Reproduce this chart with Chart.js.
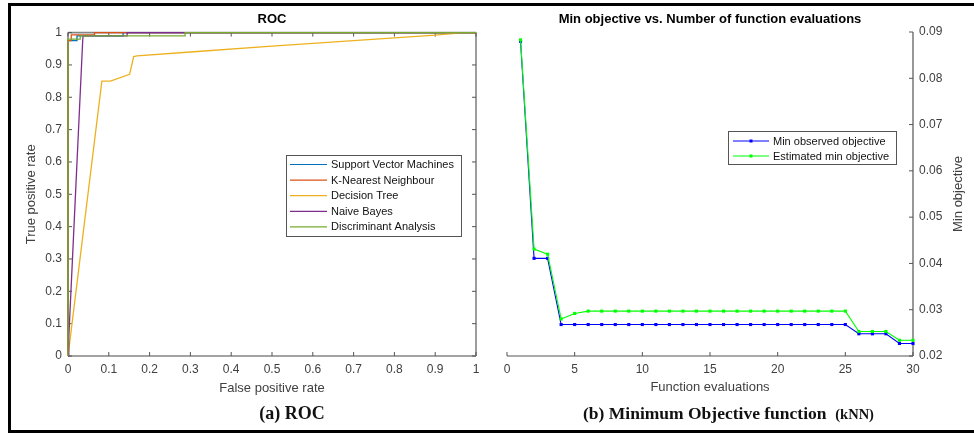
<!DOCTYPE html>
<html>
<head>
<meta charset="utf-8">
<script src="https://cdn.jsdelivr.net/npm/chart.js@4.4.0/dist/chart.umd.min.js"></script>
<style>
  html, body { margin: 0; padding: 0; background: #fff; }
  body { width: 974px; height: 433px; position: relative; overflow: hidden; }
  canvas { position: absolute; top: 0; }
  #rocCanvas { left: 0; }
  #objCanvas { left: 490px; }
  .frame { position: absolute; left: 8px; top: 3px; width: 990px; height: 430px; box-sizing: border-box;
           border: 3px solid #000; border-right: none; pointer-events: none; }
  .caption { position: absolute; font-family: 'Liberation Serif', 'Times New Roman', serif; font-weight: bold;
             color: #111; white-space: pre; line-height: 20px; }
</style>
</head>
<body>
<canvas id="rocCanvas" width="490" height="433"></canvas>
<canvas id="objCanvas" width="484" height="433"></canvas>
<div class="frame"></div>
<div class="caption" style="left:0; width:584px; text-align:center; top:403px; font-size:18px;">(a) ROC</div>
<div class="caption" style="left:583px; top:403px; font-size:17.5px;">(b) Minimum Objective function  <span style="font-size:14.5px">(kNN)</span></div>
<script>
// ROC curves (false positive rate / true positive rate)
const svmFpr = [0, 0, 0.022, 0.022, 0.135, 0.135, 1];
const svmTpr = [0, 0.975, 0.975, 0.99, 0.99, 1, 1];
const knnFpr = [0, 0, 0.008, 0.008, 0.065, 0.065, 1];
const knnTpr = [0, 0.975, 0.975, 0.993, 0.993, 1, 1];
const dtFpr = [0, 0.003, 0.083, 0.104, 0.151, 0.161, 0.169, 0.3, 0.5, 0.7, 0.9, 0.97, 1];
const dtTpr = [0, 0.03, 0.85, 0.85, 0.871, 0.926, 0.928, 0.94, 0.958, 0.975, 0.992, 1, 1];
const nbFpr = [0, 0.002, 0.036, 0.037, 0.145, 0.145, 1];
const nbTpr = [0, 0.06, 0.975, 0.99, 0.99, 1, 1];
const daFpr = [0, 0, 0.03, 0.03, 0.287, 0.287, 1];
const daTpr = [0, 0.98, 0.98, 0.99, 0.99, 1, 1];
const rocTicks = [0, 0.1, 0.2, 0.3, 0.4, 0.5, 0.6, 0.7, 0.8, 0.9, 1];

// Bayesian optimisation trace (kNN)
const evals = [1, 2, 3, 4, 5, 6, 7, 8, 9, 10, 11, 12, 13, 14, 15, 16, 17, 18, 19, 20, 21, 22, 23, 24, 25, 26, 27, 28, 29, 30];
const minObserved = [0.088, 0.0411, 0.0411, 0.0268, 0.0268, 0.0268, 0.0268, 0.0268, 0.0268, 0.0268,
  0.0268, 0.0268, 0.0268, 0.0268, 0.0268, 0.0268, 0.0268, 0.0268, 0.0268, 0.0268,
  0.0268, 0.0268, 0.0268, 0.0268, 0.0268, 0.0248, 0.0248, 0.0248, 0.0227, 0.0227];
const estimatedMin = [0.0883, 0.0431, 0.042, 0.028, 0.0292, 0.0297, 0.0297, 0.0297, 0.0297, 0.0297,
  0.0297, 0.0297, 0.0297, 0.0297, 0.0297, 0.0297, 0.0297, 0.0297, 0.0297, 0.0297,
  0.0297, 0.0297, 0.0297, 0.0297, 0.0297, 0.0253, 0.0253, 0.0253, 0.0234, 0.0234];
const evalTicks = [0, 5, 10, 15, 20, 25, 30];
const objTicks = [0.02, 0.03, 0.04, 0.05, 0.06, 0.07, 0.08, 0.09];

Chart.defaults.font.family = "'Liberation Sans', Arial, sans-serif";
Chart.defaults.color = '#404040';

const pts = (xs, ys) => xs.map((x, i) => ({ x: x, y: ys[i] }));
const setTicks = list => scale => { scale.ticks = list.map(v => ({ value: v })); };

// axis lines + inward tick marks, MATLAB style
const framePlugin = {
  id: 'frame',
  beforeDatasetsDraw(chart, args, o) {
    const { ctx, chartArea: a, scales } = chart;
    const s = o.sides;
    ctx.save();
    ctx.strokeStyle = o.color;
    ctx.lineWidth = o.width;
    ctx.beginPath();
    if (s.includes('top')) { ctx.moveTo(a.left, a.top); ctx.lineTo(a.right, a.top); }
    if (s.includes('bottom')) { ctx.moveTo(a.left, a.bottom); ctx.lineTo(a.right, a.bottom); }
    if (s.includes('left')) { ctx.moveTo(a.left, a.top); ctx.lineTo(a.left, a.bottom); }
    if (s.includes('right')) { ctx.moveTo(a.right, a.top); ctx.lineTo(a.right, a.bottom); }
    ctx.stroke();
    ctx.lineWidth = 1;
    ctx.strokeStyle = o.tickColor;
    ctx.beginPath();
    const L = o.tick;
    scales.x.ticks.forEach(t => {
      const px = scales.x.getPixelForValue(t.value);
      if (s.includes('bottom')) { ctx.moveTo(px, a.bottom); ctx.lineTo(px, a.bottom - L); }
      if (s.includes('top')) { ctx.moveTo(px, a.top); ctx.lineTo(px, a.top + L); }
    });
    scales.y.ticks.forEach(t => {
      const py = scales.y.getPixelForValue(t.value);
      if (s.includes('left')) { ctx.moveTo(a.left, py); ctx.lineTo(a.left + L, py); }
      if (s.includes('right')) { ctx.moveTo(a.right, py); ctx.lineTo(a.right - L, py); }
    });
    ctx.stroke();
    ctx.restore();
  }
};

// boxed legend inside the plot area
const boxLegend = {
  id: 'boxLegend',
  afterDatasetsDraw(chart, args, o) {
    const { ctx, chartArea: a } = chart;
    const x = Math.round(a.right - o.right - o.width), y = Math.round(a.top + o.top);
    ctx.save();
    ctx.fillStyle = '#fff';
    ctx.fillRect(x, y, o.width, o.height);
    ctx.strokeStyle = '#555';
    ctx.lineWidth = 1;
    ctx.strokeRect(x + 0.5, y + 0.5, o.width, o.height);
    ctx.font = "11px 'Liberation Sans', Arial, sans-serif";
    ctx.textBaseline = 'middle';
    chart.data.datasets.forEach((ds, i) => {
      const cy = y + o.first + i * o.row;
      ctx.strokeStyle = ds.borderColor;
      ctx.lineWidth = 1.2;
      ctx.beginPath();
      ctx.moveTo(x + o.pad, cy);
      ctx.lineTo(x + o.pad + o.len, cy);
      ctx.stroke();
      if (o.marker) {
        ctx.fillStyle = ds.borderColor;
        ctx.fillRect(x + o.pad + o.len / 2 - 1.5, cy - 1.5, 3, 3);
      }
      ctx.fillStyle = '#111';
      ctx.fillText(ds.label, x + o.pad + o.len + 4, cy + 0.5);
    });
    ctx.restore();
  }
};

// y title on the right, reading bottom to top
const sideTitle = {
  id: 'sideTitle',
  afterDraw(chart, args, o) {
    if (!o.text) return;
    const { ctx, chartArea: a } = chart;
    ctx.save();
    ctx.translate(a.right + o.offset, (a.top + a.bottom) / 2);
    ctx.rotate(-Math.PI / 2);
    ctx.font = "13px 'Liberation Sans', Arial, sans-serif";
    ctx.fillStyle = '#404040';
    ctx.textAlign = 'center';
    ctx.textBaseline = 'middle';
    ctx.fillText(o.text, 0, 0);
    ctx.restore();
  }
};

const rocDs = (label, xs, ys, color, order) => ({
  label: label, data: pts(xs, ys), borderColor: color, backgroundColor: color,
  borderWidth: 1.3, pointRadius: 0, tension: 0, clip: false, order: order
});

new Chart(document.getElementById('rocCanvas'), {
  type: 'line',
  data: {
    datasets: [
      rocDs('Support Vector Machines', svmFpr, svmTpr, '#0072BD', 5),
      rocDs('K-Nearest Neighbour', knnFpr, knnTpr, '#D95319', 4),
      rocDs('Decision Tree', dtFpr, dtTpr, '#EDB120', 3),
      rocDs('Naive Bayes', nbFpr, nbTpr, '#7E2F8E', 2),
      rocDs('Discriminant Analysis', daFpr, daTpr, '#77AC30', 1)
    ]
  },
  plugins: [framePlugin, boxLegend],
  options: {
    responsive: false,
    animation: false,
    devicePixelRatio: 1,
    layout: { padding: { left: 0, right: 14, top: 0, bottom: 0 } },
    scales: {
      x: {
        type: 'linear', min: 0, max: 1,
        afterBuildTicks: setTicks(rocTicks),
        afterFit: s => { s.height = 77; },
        grid: { display: false, drawTicks: false },
        border: { display: false },
        ticks: { padding: 6, font: { size: 12 }, color: '#404040', maxRotation: 0, callback: v => String(v) },
        title: { display: true, text: 'False positive rate', font: { size: 13 }, color: '#404040', padding: { top: 0, bottom: 37 } }
      },
      y: {
        type: 'linear', min: 0, max: 1,
        afterBuildTicks: setTicks(rocTicks),
        afterFit: s => { s.width = 68; },
        grid: { display: false, drawTicks: false },
        border: { display: false },
        ticks: { padding: 6, font: { size: 12 }, color: '#404040', callback: v => String(v) },
        title: { display: true, text: 'True positive rate', font: { size: 13 }, color: '#404040', padding: { top: 24, bottom: 0 } }
      }
    },
    plugins: {
      legend: { display: false },
      tooltip: { enabled: false },
      title: { display: true, text: 'ROC', fullSize: false, color: '#000', font: { size: 13, weight: 'bold' }, padding: { top: 12, bottom: 5 } },
      frame: { sides: ['top', 'bottom', 'left', 'right'], color: '#858585', width: 1.6, tickColor: '#555', tick: 4 },
      boxLegend: { right: 15, top: 122, width: 175, height: 81, first: 9.5, row: 15.6, pad: 4, len: 37, marker: false }
    }
  }
});

new Chart(document.getElementById('objCanvas'), {
  type: 'line',
  data: {
    datasets: [
      { label: 'Min observed objective', data: pts(evals, minObserved), borderColor: '#0000ff', backgroundColor: '#0000ff',
        borderWidth: 1.1, pointStyle: 'rect', pointRadius: 2.2, pointBorderWidth: 0, tension: 0, clip: false, order: 2 },
      { label: 'Estimated min objective', data: pts(evals, estimatedMin), borderColor: '#00ff00', backgroundColor: '#00ff00',
        borderWidth: 1.1, pointStyle: 'rect', pointRadius: 2.2, pointBorderWidth: 0, tension: 0, clip: false, order: 1 }
    ]
  },
  plugins: [framePlugin, boxLegend, sideTitle],
  options: {
    responsive: false,
    animation: false,
    devicePixelRatio: 1,
    layout: { padding: { left: 17, right: 0, top: 0, bottom: 0 } },
    scales: {
      x: {
        type: 'linear', min: 0, max: 30,
        afterBuildTicks: setTicks(evalTicks),
        afterFit: s => { s.height = 77; },
        grid: { display: false, drawTicks: false },
        border: { display: false },
        ticks: { padding: 6, font: { size: 12 }, color: '#404040', maxRotation: 0, callback: v => String(v) },
        title: { display: true, text: 'Function evaluations', font: { size: 13 }, color: '#404040', padding: { top: 0, bottom: 38 } }
      },
      y: {
        type: 'linear', position: 'right', min: 0.02, max: 0.09,
        afterBuildTicks: setTicks(objTicks),
        afterFit: s => { s.width = 61; },
        grid: { display: false, drawTicks: false },
        border: { display: false },
        ticks: { padding: 6, font: { size: 12 }, color: '#404040', callback: v => v.toFixed(2) },
        title: { display: false }
      }
    },
    plugins: {
      legend: { display: false },
      tooltip: { enabled: false },
      title: { display: true, text: 'Min objective vs. Number of function evaluations', fullSize: false, color: '#000',
        font: { size: 13, weight: 'bold' }, padding: { top: 12, bottom: 4.4 } },
      frame: { sides: ['bottom', 'right'], color: '#555', width: 1.2, tickColor: '#555', tick: 4 },
      boxLegend: { right: 17, top: 99, width: 168, height: 33, first: 10, row: 15, pad: 5, len: 36, marker: true },
      sideTitle: { text: 'Min objective', offset: 45 }
    }
  }
});
</script>
</body>
</html>
